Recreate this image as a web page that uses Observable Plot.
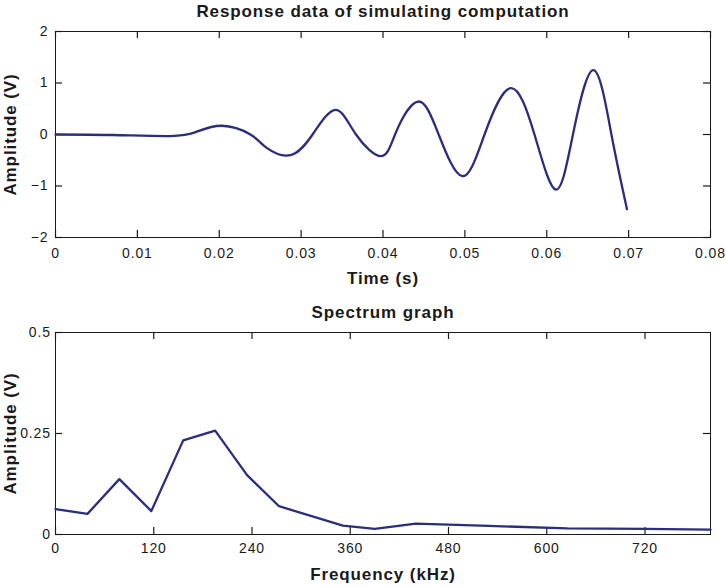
<!DOCTYPE html>
<html>
<head>
<meta charset="utf-8">
<script src="https://cdn.jsdelivr.net/npm/d3@7"></script>
<script src="https://cdn.jsdelivr.net/npm/@observablehq/plot@0.6"></script>
<style>
  html, body { margin: 0; padding: 0; background: white; overflow: hidden; }
  #wrap { position: relative; width: 726px; height: 587px; }
  #wrap > svg { position: absolute; left: 0; }
</style>
</head>
<body>
<div id="wrap"></div>
<script>
// ---- Top panel data: response of simulating computation ----
const timeS = [0, 0.007, 0.0140, 0.0172, 0.0203, 0.0238, 0.0258, 0.0287, 0.0314, 0.0342, 0.0367, 0.0398, 0.0416, 0.0443, 0.0468, 0.0497, 0.0524, 0.0556, 0.0585, 0.0611, 0.0632, 0.0657, 0.0679, 0.0698];
const responseV = [0, -0.01, -0.03, 0.05, 0.17, 0.0, -0.26, -0.40, 0.0, 0.48, 0.0, -0.42, 0.05, 0.64, 0.0, -0.81, 0.0, 0.90, 0.0, -1.07, 0.0, 1.25, 0.0, -1.45];
const timeTicks = [0, 0.01, 0.02, 0.03, 0.04, 0.05, 0.06, 0.07, 0.08];
const respTicks = [-2, -1, 0, 1, 2];

// ---- Bottom panel data: spectrum ----
const freqKHz = [0, 39, 78, 117, 156, 195, 234, 273, 351, 390, 440, 520, 625, 720, 800];
const spectrumV = [0.063, 0.051, 0.137, 0.058, 0.233, 0.257, 0.147, 0.070, 0.022, 0.014, 0.027, 0.022, 0.015, 0.014, 0.012];
const freqTicks = [0, 120, 240, 360, 480, 600, 720];
const specTicks = [0, 0.25, 0.5];

const titles = ["Response data of simulating computation", "Spectrum graph"];
const xLabels = ["Time (s)", "Frequency (kHz)"];
const yLabel = "Amplitude (V)";

const lineColor = "#2b2e7c";
const inkColor = "#1a1a1a";
const font = "'Liberation Sans', Arial, Helvetica, sans-serif";
const tickLen = 7;

const topData = timeS.map((t, i) => ({t, v: responseV[i]}));
const botData = freqKHz.map((f, i) => ({f, v: spectrumV[i]}));

function panel({data, xKey, xDomain, yDomain, xTicks, yTicks, yRightTicks, xFmt, yFmt, height, mt, mb, title, xLabel, titleDy, xLabelDy, xPad, yPad, curve}) {
  const ml = 55, mr = 16, width = 726;
  const fh = height - mt - mb;          // frame height (px)
  const fw = width - ml - mr;           // frame width (px)
  // tick length expressed in data units of each scale
  const ky = tickLen / fh * (yDomain[1] - yDomain[0]);
  const kx = tickLen / fw * (xDomain[1] - xDomain[0]);
  const [x0, x1] = xDomain, [y0, y1] = yDomain;
  const tickStyle = {stroke: inkColor, strokeWidth: 1.2};
  return Plot.plot({
    width,
    height,
    marginLeft: ml,
    marginRight: mr,
    marginTop: mt,
    marginBottom: mb,
    style: {fontFamily: font, fontSize: "14px", color: inkColor, background: "transparent", overflow: "visible", letterSpacing: "0.9px"},
    x: {domain: xDomain},
    y: {domain: yDomain},
    marks: [
      // inward ticks on all four sides
      Plot.ruleX(xTicks, {x: d => d, y1: () => y0, y2: () => y0 + ky, ...tickStyle}),
      Plot.ruleX(xTicks, {x: d => d, y1: () => y1 - ky, y2: () => y1, ...tickStyle}),
      Plot.ruleY(yTicks, {y: d => d, x1: () => x0, x2: () => x0 + kx, ...tickStyle}),
      Plot.ruleY(yRightTicks, {y: d => d, x1: () => x1 - kx, x2: () => x1, ...tickStyle}),
      Plot.frame({stroke: inkColor, strokeWidth: 1}),
      // tick labels
      Plot.axisX({anchor: "bottom", ticks: xTicks, tickSize: 0, tickPadding: xPad, tickFormat: xFmt, label: null, fill: inkColor}),
      Plot.axisY({anchor: "left", ticks: yTicks, tickSize: 0, tickPadding: yPad, tickFormat: yFmt, label: null, fill: inkColor}),
      Plot.line(data, {x: xKey, y: "v", stroke: lineColor, strokeWidth: 2.3, curve}),
      Plot.text([title], {frameAnchor: "top", dy: titleDy, lineAnchor: "bottom", fontWeight: "bold", fontSize: 17, fill: inkColor, text: d => d}),
      Plot.text([xLabel], {frameAnchor: "bottom", dy: xLabelDy, lineAnchor: "bottom", fontWeight: "bold", fontSize: 17, fill: inkColor, text: d => d}),
      Plot.text([yLabel], {frameAnchor: "left", dx: -45, rotate: -90, lineAnchor: "middle", textAnchor: "middle", fontWeight: "bold", fontSize: 17, fill: inkColor, text: d => d})
    ]
  });
}

const wrap = document.getElementById("wrap");

const top1 = panel({
  data: topData, xKey: "t", xDomain: [0, 0.08], yDomain: [-2, 2],
  xTicks: timeTicks, yTicks: respTicks, yRightTicks: respTicks,
  xFmt: d => d === 0 ? "0" : d3.format(".2f")(d), yFmt: d3.format("d"),
  height: 295, mt: 31, mb: 58,
  title: titles[0], xLabel: xLabels[0], titleDy: -15, xLabelDy: 46, xPad: 11, yPad: 7,
  curve: "natural"
});
top1.style.top = "0px";
wrap.appendChild(top1);

const bot = panel({
  data: botData, xKey: "f", xDomain: [0, 800], yDomain: [0, 0.5],
  xTicks: freqTicks, yTicks: specTicks, yRightTicks: [0.25],
  xFmt: d3.format("d"), yFmt: d => d === 0 ? "0" : String(d),
  height: 292, mt: 37, mb: 53,
  title: titles[1], xLabel: xLabels[1], titleDy: -15, xLabelDy: 45, xPad: 8.5, yPad: 4.5,
  curve: "linear"
});
bot.style.top = "295px";
wrap.appendChild(bot);
</script>
</body>
</html>
